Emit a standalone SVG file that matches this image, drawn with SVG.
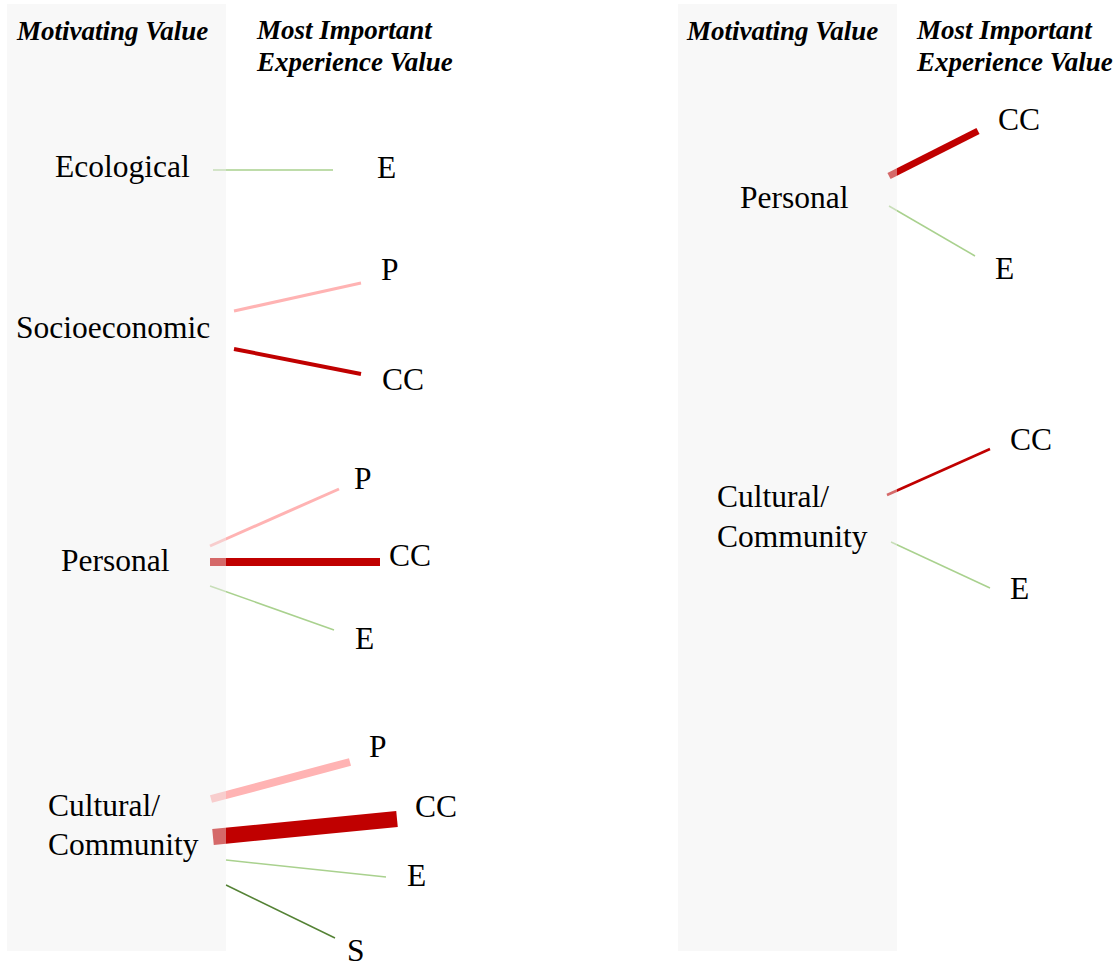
<svg xmlns="http://www.w3.org/2000/svg" width="1117" height="967" viewBox="0 0 1117 967">
<style>
.t{font-family:"Liberation Serif","Times New Roman",serif;font-size:27px;font-weight:bold;font-style:italic;fill:#000}
.l{font-family:"Liberation Serif","Times New Roman",serif;font-size:31.5px;fill:#000}
.panel{fill:#efefef;fill-opacity:0.44}
.e{stroke:#a9d18e;stroke-width:1.5;fill:none}
.s{stroke:#548235;stroke-width:1.5;fill:none}
.p{stroke:#ffb3b3;fill:none}
.cc{stroke:#c00000;fill:none}
</style>
<rect width="1117" height="967" fill="#fff"/>
<g id="connectors">
<line class="e" x1="213" y1="170" x2="333" y2="170"/>
<line class="p" stroke-width="3" x1="234" y1="311" x2="361" y2="283"/>
<line class="cc" stroke-width="4" x1="234" y1="349" x2="361" y2="374"/>
<line class="p" stroke-width="3" x1="210" y1="546" x2="339" y2="489"/>
<line class="cc" stroke-width="8" x1="210" y1="562" x2="380" y2="562"/>
<line class="e" x1="210" y1="586" x2="334" y2="630"/>
<line class="p" stroke-width="8" x1="211" y1="799" x2="350" y2="762"/>
<line class="cc" stroke-width="16" x1="213" y1="837" x2="397" y2="819"/>
<line class="e" x1="226" y1="860" x2="386" y2="877"/>
<line class="s" x1="226" y1="885" x2="335" y2="938"/>
<line class="cc" stroke-width="7" x1="889" y1="176" x2="978" y2="131"/>
<line class="e" x1="889" y1="206" x2="975" y2="256"/>
<line class="cc" stroke-width="2.5" x1="887" y1="495" x2="990" y2="449"/>
<line class="e" x1="891" y1="542" x2="990" y2="588"/>
</g>
<g id="panels">
<rect class="panel" x="7" y="4" width="219" height="947"/>
<rect class="panel" x="678" y="4" width="219" height="947"/>
</g>
<g id="headers">
<text class="t" x="17" y="40">Motivating Value</text>
<text class="t" x="257" y="39">Most Important</text>
<text class="t" x="257" y="71">Experience Value</text>
<text class="t" x="687" y="40">Motivating Value</text>
<text class="t" x="917" y="39">Most Important</text>
<text class="t" x="917" y="71">Experience Value</text>
</g>
<g id="n-ecological"><text class="l" x="55" y="177">Ecological</text></g>
<g id="n-socioeconomic"><text class="l" x="16" y="338">Socioeconomic</text></g>
<g id="n-personal-l"><text class="l" x="61" y="571">Personal</text></g>
<g id="n-cultural-l"><text class="l" x="48" y="816">Cultural/</text><text class="l" x="48" y="855">Community</text></g>
<g id="n-e1"><text class="l" x="377" y="178">E</text></g>
<g id="n-p1"><text class="l" x="381" y="280">P</text></g>
<g id="n-cc1"><text class="l" x="382" y="390">CC</text></g>
<g id="n-p2"><text class="l" x="354" y="489">P</text></g>
<g id="n-cc2"><text class="l" x="389" y="566">CC</text></g>
<g id="n-e2"><text class="l" x="355" y="649">E</text></g>
<g id="n-p3"><text class="l" x="369" y="757">P</text></g>
<g id="n-cc3"><text class="l" x="415" y="817">CC</text></g>
<g id="n-e3"><text class="l" x="407" y="886">E</text></g>
<g id="n-s3"><text class="l" x="347" y="961">S</text></g>
<g id="n-personal-r"><text class="l" x="740" y="208">Personal</text></g>
<g id="n-cultural-r"><text class="l" x="717" y="507">Cultural/</text><text class="l" x="717" y="547">Community</text></g>
<g id="n-cc4"><text class="l" x="998" y="130">CC</text></g>
<g id="n-e4"><text class="l" x="995" y="279">E</text></g>
<g id="n-cc5"><text class="l" x="1010" y="450">CC</text></g>
<g id="n-e5"><text class="l" x="1010" y="599">E</text></g>
</svg>
